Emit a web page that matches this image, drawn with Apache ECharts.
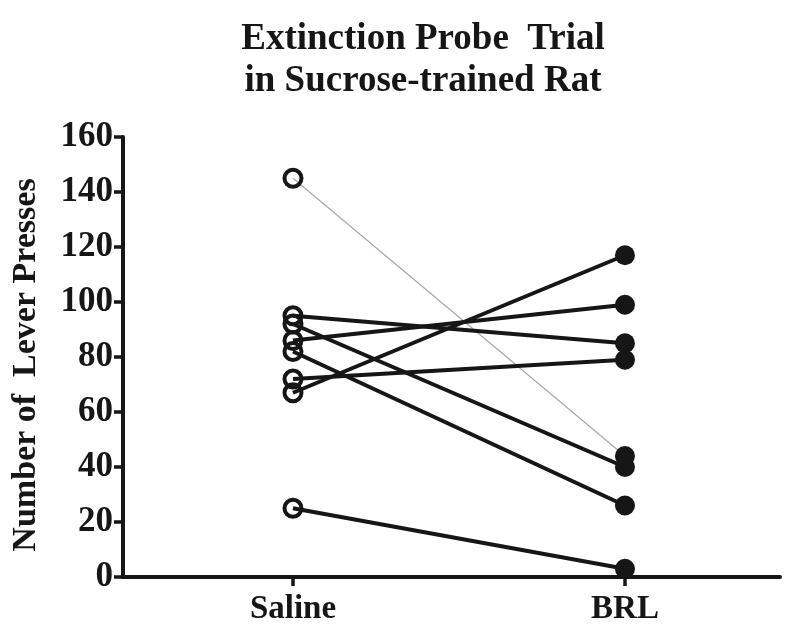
<!DOCTYPE html>
<html>
<head>
<meta charset="utf-8">
<script src="https://cdn.jsdelivr.net/npm/echarts@6/dist/echarts.min.js"></script>
<style>
html,body{margin:0;padding:0;background:#fff;}
#chart{width:800px;height:633px;}
</style>
</head>
<body>
<div id="chart"></div>
<script>
var categories = ['Saline', 'BRL'];
var salineValues = [145, 95, 92, 86, 82, 72, 67, 25];
var brlValues = [44, 85, 40, 99, 26, 79, 117, 3];
var yTicks = [0, 20, 40, 60, 80, 100, 120, 140, 160];
var titleLines = ['Extinction Probe  Trial', 'in Sucrose-trained Rat'];
var yAxisName = 'Number of  Lever Presses';

var serif = '"Liberation Serif", "DejaVu Serif", serif';
var ink = '#161616';
var chart = echarts.init(document.getElementById('chart'));

var series = salineValues.map(function (s, i) {
  var gray = i === 0;
  return {
    type: 'line',
    z: gray ? 2 : 3,
    silent: true,
    lineStyle: { color: gray ? '#a8a8a8' : ink, width: gray ? 1.2 : 4 },
    data: [
      { value: [1, s], symbol: 'circle', symbolSize: 17,
        itemStyle: { color: 'rgba(255,255,255,0)', borderColor: ink, borderWidth: 4 } },
      { value: [2, brlValues[i]], symbol: 'circle', symbolSize: 20,
        itemStyle: { color: ink, borderWidth: 0 } }
    ]
  };
});

chart.setOption({
  animation: false,
  backgroundColor: '#fff',
  title: {
    text: titleLines.join('\n'),
    left: 418, top: 13, textAlign: 'center',
    textStyle: { fontFamily: serif, fontWeight: 'bold', fontSize: 37, lineHeight: 42, color: ink }
  },
  grid: { left: 123, right: 20, top: 137, bottom: 56, containLabel: false },
  xAxis: {
    type: 'value', min: 0.488, max: 2.467,
    splitLine: { show: false },
    axisLine: { show: true, lineStyle: { color: ink, width: 4 } },
    axisTick: { show: true, customValues: [1, 2], length: 9, lineStyle: { color: ink, width: 3.5 } },
    axisLabel: {
      customValues: [1, 2],
      formatter: function (v) { return categories[Math.round(v) - 1]; },
      margin: 16,
      fontFamily: serif, fontWeight: 'bold', fontSize: 33, color: ink
    }
  },
  yAxis: {
    type: 'value', min: 0, max: 160, interval: 20,
    name: yAxisName, nameLocation: 'middle', nameGap: 80, nameRotate: 90,
    nameTextStyle: { fontFamily: serif, fontWeight: 'bold', fontSize: 34, color: ink, padding: [0, 16, 0, 0] },
    splitLine: { show: false },
    axisLine: { show: true, lineStyle: { color: ink, width: 4 } },
    axisTick: { show: true, length: 9, lineStyle: { color: ink, width: 3.5 } },
    axisLabel: {
      margin: 10,
      formatter: function (v) { return yTicks.indexOf(v) >= 0 ? String(v) : ''; },
      fontFamily: serif, fontWeight: 'bold', fontSize: 35, color: ink
    }
  },
  series: series
});
</script>
</body>
</html>
